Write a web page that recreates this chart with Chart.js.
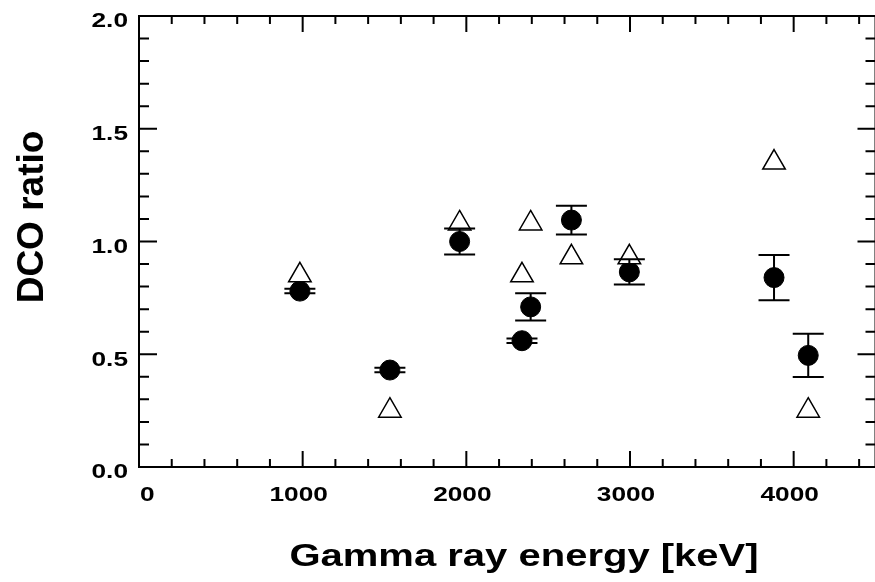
<!DOCTYPE html>
<html>
<head>
<meta charset="utf-8">
<title>DCO ratio</title>
<script src="https://cdn.jsdelivr.net/npm/chart.js@4/dist/chart.umd.min.js"></script>
<style>
  html, body { margin: 0; padding: 0; background: #fff; overflow: hidden; }
  canvas { display: block; }
</style>
</head>
<body>
<canvas id="dcoChart" width="890" height="582"></canvas>
<script>
// gamma energies (keV)
const energies = [983, 1533, 1959, 2340, 2393, 2642, 2996, 3880, 4089];
// measured DCO ratios and their errors
const dcoMeasured = [0.78, 0.43, 1.00, 0.56, 0.71, 1.095, 0.865, 0.84, 0.495];
const dcoErrors = [0.01, 0.01, 0.058, 0.01, 0.06, 0.064, 0.056, 0.10, 0.096];
// calculated DCO ratios
const dcoCalc = [0.85, 0.25, 1.08, 0.85, 1.08, 0.93, 0.93, 1.35, 0.25];

const xTickValues = [0, 1000, 2000, 3000, 4000];
const xTickLabels = ['0', '1000', '2000', '3000', '4000'];
const yTickValues = [0, 0.5, 1.0, 1.5, 2.0];
const yTickLabels = ['0.0', '0.5', '1.0', '1.5', '2.0'];

const FONT = '"Liberation Sans", Arial, sans-serif';
const STRETCH = 1.25;

function stretchedText(ctx, text, x, y, align) {
  ctx.save();
  ctx.translate(x, y);
  ctx.scale(STRETCH, 1);
  ctx.textAlign = align;
  ctx.textBaseline = 'alphabetic';
  ctx.fillText(text, 0, 0);
  ctx.restore();
}

// error bars on the measured points
const errorBars = {
  id: 'errorBars',
  afterDatasetsDraw(chart) {
    const { ctx, scales: { x, y } } = chart;
    ctx.save();
    ctx.strokeStyle = '#000';
    ctx.lineWidth = 2;
    energies.forEach((e, i) => {
      const px = x.getPixelForValue(e);
      const hi = y.getPixelForValue(dcoMeasured[i] + dcoErrors[i]);
      const lo = y.getPixelForValue(dcoMeasured[i] - dcoErrors[i]);
      ctx.beginPath();
      ctx.moveTo(px, hi); ctx.lineTo(px, lo);
      ctx.moveTo(px - 15.5, hi); ctx.lineTo(px + 15.5, hi);
      ctx.moveTo(px - 15.5, lo); ctx.lineTo(px + 15.5, lo);
      ctx.stroke();
    });
    ctx.restore();
  }
};

// box frame with inward ticks, tick labels and axis titles
const frameAxes = {
  id: 'frameAxes',
  afterDraw(chart) {
    const { ctx, chartArea: a, scales: { x, y } } = chart;
    ctx.save();
    ctx.strokeStyle = '#000';
    ctx.fillStyle = '#000';
    ctx.lineWidth = 2;
    ctx.strokeRect(a.left, a.top, a.right - a.left, a.bottom - a.top);

    ctx.beginPath();
    for (let v = 0; v <= x.max; v += 200) {
      const px = x.getPixelForValue(v);
      const len = v % 1000 === 0 ? 16 : 8;
      ctx.moveTo(px, a.bottom); ctx.lineTo(px, a.bottom - len);
      ctx.moveTo(px, a.top); ctx.lineTo(px, a.top + len);
    }
    for (let k = 0; k <= 20; k++) {
      const py = y.getPixelForValue(k / 10);
      const len = k % 5 === 0 ? 18 : 10;
      ctx.moveTo(a.left, py); ctx.lineTo(a.left + len, py);
      ctx.moveTo(a.right, py); ctx.lineTo(a.right - len, py);
    }
    ctx.stroke();

    ctx.font = 'bold 21px ' + FONT;
    xTickValues.forEach((v, i) => {
      const w = ctx.measureText(xTickLabels[i]).width * STRETCH;
      let cx = x.getPixelForValue(v) - 4;
      if (cx - w / 2 < a.left + 1) cx = a.left + 1 + w / 2;
      stretchedText(ctx, xTickLabels[i], cx, a.bottom + 33.5, 'center');
    });
    yTickValues.forEach((v, i) => {
      stretchedText(ctx, yTickLabels[i], 128, y.getPixelForValue(v) + 11.3, 'right');
    });

    ctx.font = 'bold 32px ' + FONT;
    stretchedText(ctx, 'Gamma ray energy [keV]', 524, 566, 'center');

    ctx.save();
    ctx.translate(43, 217);
    ctx.rotate(-Math.PI / 2);
    ctx.font = 'bold 37px ' + FONT;
    ctx.textAlign = 'center';
    ctx.textBaseline = 'alphabetic';
    ctx.fillText('DCO ratio', 0, 0);
    ctx.restore();

    ctx.restore();
  }
};

new Chart(document.getElementById('dcoChart').getContext('2d'), {
  type: 'scatter',
  data: {
    datasets: [
      {
        label: 'calculated',
        data: energies.map((e, i) => ({ x: e, y: dcoCalc[i] })),
        pointStyle: 'triangle',
        pointRadius: 13,
        backgroundColor: '#fff',
        borderColor: '#000',
        borderWidth: 1.5,
        order: 0
      },
      {
        label: 'measured',
        data: energies.map((e, i) => ({ x: e, y: dcoMeasured[i] })),
        pointStyle: 'circle',
        pointRadius: 10,
        backgroundColor: '#000',
        borderColor: '#000',
        borderWidth: 1,
        order: 1
      }
    ]
  },
  options: {
    responsive: false,
    animation: false,
    layout: { padding: { left: 139, right: 3, top: 16, bottom: 115 } },
    plugins: { legend: { display: false }, tooltip: { enabled: false } },
    scales: {
      x: { type: 'linear', min: 0, max: 4500, display: false },
      y: { type: 'linear', min: 0, max: 2, display: false }
    }
  },
  plugins: [errorBars, frameAxes]
});
</script>
</body>
</html>
